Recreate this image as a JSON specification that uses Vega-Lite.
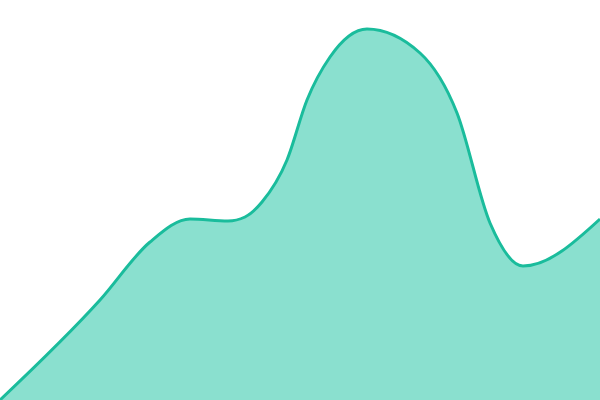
{
  "$schema": "https://vega.github.io/schema/vega-lite/v6.json",
  "width": 600,
  "height": 400,
  "autosize": {"type": "none"},
  "padding": 0,
  "background": "white",
  "config": {"view": {"stroke": null}},
  "data": {"values": [
    {"x": 0, "v": 0}, {"x": 100, "v": 100}, {"x": 150, "v": 158}, {"x": 190, "v": 181},
    {"x": 228, "v": 179}, {"x": 245, "v": 183}, {"x": 262, "v": 198}, {"x": 287, "v": 240},
    {"x": 307, "v": 300}, {"x": 330, "v": 343}, {"x": 367, "v": 371},
    {"x": 420, "v": 347}, {"x": 457, "v": 287},
    {"x": 490, "v": 177}, {"x": 523, "v": 134}, {"x": 600, "v": 181}
  ]},
  "mark": {"type": "area", "interpolate": "monotone", "color": "#8ae0cf", "opacity": 1,
    "line": {"color": "#1abc9c", "strokeWidth": 3, "interpolate": "monotone"}},
  "encoding": {
    "x": {"field": "x", "type": "quantitative", "scale": {"domain": [0, 600], "nice": false, "zero": false}, "axis": null},
    "y": {"field": "v", "type": "quantitative", "scale": {"domain": [0, 400], "nice": false}, "axis": null}
  }
}
